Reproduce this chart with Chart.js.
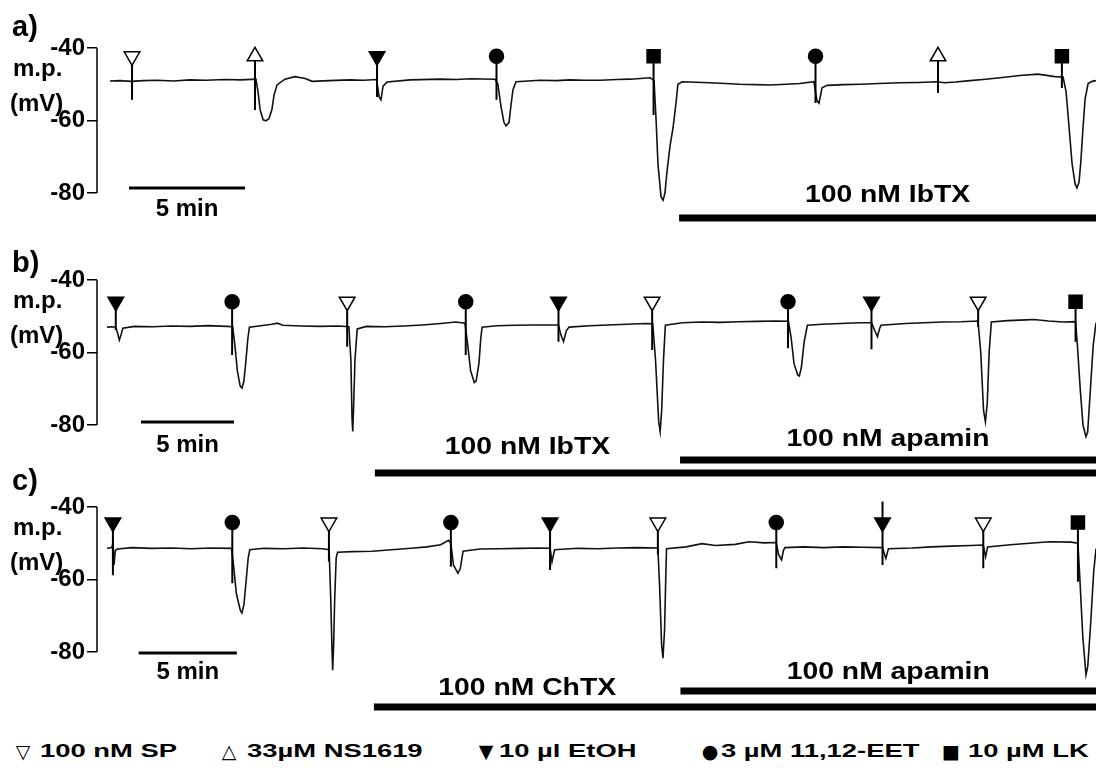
<!DOCTYPE html>
<html lang="en">
<head>
    <meta charset="utf-8">
    <title>Membrane potential traces</title>
    <script src="https://cdn.jsdelivr.net/npm/chart.js"></script>
    <style>
        body {
            margin: 0;
            background: #fff;
            width: 1099px;
            height: 771px;
            position: relative;
            overflow: hidden;
            font-family: "Liberation Sans", Arial, sans-serif;
        }
        canvas {
            position: absolute;
            left: 0;
        }
        #legend span {
            position: absolute;
            top: 736px;
            line-height: 30px;
            font-weight: bold;
            white-space: nowrap;
            color: #000;
        }
        #legend .sym {
            font-family: "DejaVu Sans", sans-serif;
            font-size: 19px;
            transform: translateX(-50%);
        }
        #legend .txt {
            font-size: 18.5px;
            transform: scaleX(1.48);
            transform-origin: left center;
        }
    </style>
</head>
<body>
<canvas id="panelA" width="1099" height="260" style="top:0px"></canvas>
<canvas id="panelB" width="1099" height="260" style="top:232px"></canvas>
<canvas id="panelC" width="1099" height="260" style="top:459px"></canvas>
<div id="legend"></div>

<script>
    // ---- data (minutes, mV) ----
    const tickValues = [-40, -60, -80];

    const drugKeys = ['SP', 'NS1619', 'EtOH', 'EET', 'LK'];
    const drugNames = ['100 nM SP', '33\u00b5M NS1619', '10 \u00b5l EtOH', '3 \u00b5M 11,12-EET', '10 \u00b5M LK'];
    const drugSymbols = ['\u25bd', '\u25b3', '\u25bc', '\u25cf', '\u25a0'];

    // panel a
    const timeA = [0.56, 1.0, 1.47, 2.0, 2.6, 3.3, 4.0, 4.7, 5.5, 6.2, 6.85, 6.94, 7.03, 7.16, 7.28, 7.41, 7.54, 7.63, 7.76,
        8.1, 8.53, 8.97, 9.27, 10.0, 10.9, 11.5, 12.05, 12.16, 12.24, 12.33, 12.5, 13.5, 14.8, 15.5, 16.1, 17.16, 17.28,
        17.41, 17.54, 17.63, 17.76, 17.84, 17.93, 18.06, 19.1, 19.8, 20.4, 21.0, 21.7, 22.4, 23.0, 23.84, 24.01, 24.1,
        24.18, 24.31, 24.4, 24.48, 24.57, 24.7, 24.83, 24.96, 25.04, 25.22, 26.4, 27.1, 27.7, 28.4, 29.0, 29.7, 30.3,
        30.9, 31.03, 31.12, 31.25, 31.47, 32.2, 32.9, 33.7, 34.6, 35.4, 36.16, 36.55, 37.0, 37.63, 38.3, 38.92, 39.78,
        40.56, 41.29, 41.64, 41.77, 41.9, 42.03, 42.16, 42.24, 42.33, 42.41, 42.5, 42.59, 42.72, 42.89, 43.06];
    const mpA = [-49.1, -49.0, -49.2, -49.0, -48.9, -49.1, -48.8, -48.9, -48.7, -48.8, -48.6, -52, -57, -59.8, -60.1, -59.5,
        -57, -53, -50.2, -48.6, -47.9, -48.4, -49.2, -49.0, -48.8, -48.9, -48.7, -53.5, -54.3, -50.5, -49.4, -48.8, -48.6,
        -48.7, -48.5, -48.6, -50, -56, -60.5, -61.5, -60.5, -56, -51.5, -49.3, -48.9, -49.0, -48.8, -48.9, -48.9, -48.7,
        -48.6, -48.2, -49, -60, -72, -81, -82, -80, -74, -67, -62, -55, -50, -49.3, -49.6, -49.8, -50.0, -50.1, -50.2,
        -50.0, -49.8, -49.3, -54.5, -55.2, -51, -50.3, -50.1, -50.0, -49.8, -49.6, -49.5, -49.3, -49.6, -49.4, -49.0,
        -48.6, -48.2, -47.6, -47.2, -47.9, -48.0, -52, -62, -72, -77.5, -78.6, -77, -71, -62, -54, -49.8, -49.2, -49.0];
    const eventTimeA = [1.51, 6.81, 12.07, 17.22, 23.99, 30.97, 36.25, 41.59];
    const eventDrugA = ['SP', 'NS1619', 'EtOH', 'EET', 'LK', 'EET', 'NS1619', 'LK'];
    const stemEndA = [-54.3, -57.1, -53.5, -54.3, -58.5, -55.2, -52.4, -51.0];
    const stemTopA = [null, null, null, null, null, null, null, null];
    const toxinNamesA = ['100 nM IbTX'];
    const toxinStartA = [25.09];

    // panel b
    const timeB = [0.54, 0.8, 1.01, 1.1, 1.2, 1.3, 1.39, 2.0, 3.0, 4.0, 5.0, 6.0, 7.0, 7.3, 7.42, 7.55, 7.7, 7.8, 7.9, 8.0,
        8.12, 8.2, 8.8, 9.4, 9.7, 10.0, 11.0, 12.0, 13.0, 13.55, 13.66, 13.72, 13.76, 13.8, 13.88, 14.0, 14.5, 15.5, 16.5,
        17.5, 18.5, 19.3, 19.8, 19.95, 20.1, 20.3, 20.4, 20.55, 20.65, 20.72, 21.5, 22.5, 23.5, 24.83, 24.95, 25.1, 25.25,
        25.4, 26.5, 27.5, 28.5, 29.5, 29.9, 30.05, 30.22, 30.3, 30.38, 30.48, 30.58, 31.5, 32.5, 33.5, 34.5, 35.5, 36.5,
        37.2, 37.35, 37.5, 37.7, 37.79, 37.9, 38.05, 38.22, 39.0, 40.0, 41.0, 41.67, 41.85, 41.99, 42.1, 42.18, 43.5,
        44.5, 45.5, 46.5, 47.4, 47.55, 47.7, 47.8, 47.9, 48.0, 48.12, 49.0, 50.0, 50.4, 51.2, 52.0, 52.65, 52.75, 52.9,
        53.05, 53.21, 53.3, 53.45, 53.6, 53.75];
    const mpB = [-53.0, -52.9, -53.0, -54.5, -56.6, -55, -53.3, -52.8, -52.9, -52.7, -52.8, -52.6, -52.8, -52.9, -58, -65,
        -69.2, -69.8, -68, -63, -56, -53, -52.6, -52.2, -51.9, -52.5, -52.7, -52.8, -52.7, -52.9, -62, -78, -81.8, -76,
        -62, -53.5, -52.8, -52.9, -52.7, -52.4, -52.0, -51.6, -51.9, -58, -65, -68.3, -67.8, -63, -56, -53, -52.6, -52.5,
        -52.4, -52.4, -55, -57, -54, -53, -52.6, -52.4, -52.2, -52.0, -52.1, -62, -79, -81.8, -76, -62, -52.5, -51.8,
        -51.6, -51.7, -51.5, -51.4, -51.3, -51.4, -56, -63, -66.2, -66.5, -64, -57, -52.5, -52.2, -52.0, -51.8, -51.8,
        -54, -55.6, -53.5, -52.5, -52.0, -51.8, -51.6, -51.5, -51.3, -60, -76, -79.1, -74, -60, -51.6, -51.2, -51.0,
        -50.9, -51.3, -51.6, -51.5, -58, -70, -80, -83.2, -82, -70, -58, -51.8];
    const eventTimeB = [1.01, 7.27, 13.46, 19.84, 24.83, 29.87, 37.18, 41.67, 47.41, 52.65];
    const eventDrugB = ['EtOH', 'EET', 'SP', 'EET', 'EtOH', 'SP', 'EET', 'EtOH', 'SP', 'LK'];
    const stemEndB = [-53.8, -60.7, -58.4, -60.7, -57.0, -59.3, -58.8, -59.1, -52.9, -57.0];
    const stemTopB = [null, null, null, null, null, null, null, null, null, null];
    const toxinNamesB = ['100 nM IbTX', '100 nM apamin'];
    const toxinStartB = [14.95, 31.37];

    // panel c
    const timeC = [0.51, 0.75, 0.81, 0.87, 0.93, 1.04, 1.8, 2.8, 3.8, 4.8, 5.8, 6.85, 6.95, 7.1, 7.3, 7.38, 7.48, 7.6,
        7.7, 7.78, 8.5, 9.5, 10.5, 11.5, 11.82, 11.9, 11.97, 12.0, 12.05, 12.1, 12.18, 12.25, 13.0, 14.0, 15.0, 16.0,
        16.8, 17.5, 17.9, 18.02, 18.15, 18.38, 18.5, 18.64, 19.5, 20.5, 21.5, 22.5, 23.07, 23.17, 23.3, 24.5, 25.5, 26.5,
        27.5, 28.56, 28.65, 28.75, 28.82, 28.9, 28.96, 29.0, 30.0, 30.8, 31.5, 32.5, 33.2, 34.0, 34.59, 34.7, 34.86,
        34.95, 35.03, 36.0, 37.0, 38.0, 39.0, 40.0, 40.1, 40.17, 40.3, 41.5, 42.5, 43.5, 44.5, 45.13, 45.2, 45.25, 45.35,
        46.5, 47.5, 48.5, 49.6, 49.95, 50.05, 50.2, 50.36, 50.45, 50.6, 50.75, 50.87];
    const mpC = [-51.4, -51.2, -50, -56, -52, -51.6, -51.2, -51.4, -51.3, -51.5, -51.3, -51.4, -56, -64, -68.5, -69.2,
        -67, -60, -54, -51.8, -51.4, -51.5, -51.3, -51.5, -51.8, -65, -80, -85, -78, -66, -54, -52.5, -52.3, -52.2,
        -51.8, -51.4, -51.0, -50.4, -49.2, -50, -56, -58.3, -57, -52.2, -51.6, -51.5, -51.4, -51.3, -51.4, -55.1, -51.8,
        -51.4, -51.5, -51.3, -51.2, -51.3, -62, -78, -81.7, -74, -60, -51.5, -51.0, -50.1, -50.6, -50.3, -49.6, -49.9,
        -49.8, -53, -54.6, -52, -51.2, -51.0, -51.2, -51.0, -51.1, -51.2, -53, -54.2, -51.5, -51.3, -51.0, -50.8, -50.6,
        -50.5, -52.5, -53.7, -51, -50.4, -50.0, -49.6, -49.7, -50, -60, -76, -86.3, -84, -72, -58, -51.5];
    const eventTimeC = [0.81, 6.89, 11.81, 18.02, 23.07, 28.56, 34.59, 40.0, 45.13, 49.95];
    const eventDrugC = ['EtOH', 'EET', 'SP', 'EET', 'EtOH', 'SP', 'EET', 'EtOH', 'SP', 'LK'];
    const stemEndC = [-58.8, -61, -55, -56.5, -57.4, -53, -56.9, -56.0, -56.9, -60.6];
    const stemTopC = [null, null, null, null, null, null, null, -38.5, null, null];
    const toxinNamesC = ['100 nM ChTX', '100 nM apamin'];
    const toxinStartC = [14.1, 29.71];

    // scale bar start (each bar is 5 min long)
    const scaleBarStart = [1.38, 2.37, 2.12];
    const scaleBarLength = 5;

    // ---- layout and styles ----
    const FONT = '"Liberation Sans", Arial, sans-serif';
    const yRange = {min: -98.48, max: -26.76};
    const panels = [
        {id: 'panelA', letter: 'a)', letterY: 28, tMax: 43.06, markerLevel: -42.3, barY: 188, barLabelY: 209,
            toxinY: [218], toxinLabelY: [195],
            time: timeA, mp: mpA, evT: eventTimeA, evD: eventDrugA, stemEnd: stemEndA, stemTop: stemTopA,
            toxins: toxinNamesA, toxinStart: toxinStartA},
        {id: 'panelB', letter: 'b)', letterY: 32, tMax: 53.75, markerLevel: -46, barY: 190, barLabelY: 213,
            toxinY: [241, 228], toxinLabelY: [215, 207],
            time: timeB, mp: mpB, evT: eventTimeB, evD: eventDrugB, stemEnd: stemEndB, stemTop: stemTopB,
            toxins: toxinNamesB, toxinStart: toxinStartB},
        {id: 'panelC', letter: 'c)', letterY: 23, tMax: 50.87, markerLevel: -44.3, barY: 194, barLabelY: 213,
            toxinY: [248, 232], toxinLabelY: [229, 213],
            time: timeC, mp: mpC, evT: eventTimeC, evD: eventDrugC, stemEnd: stemEndC, stemTop: stemTopC,
            toxins: toxinNamesC, toxinStart: toxinStartC}
    ];

    const markerStyle = {
        SP: {pointStyle: 'triangle', rotation: 180, radius: 9, fill: '#fff'},
        NS1619: {pointStyle: 'triangle', rotation: 0, radius: 9, fill: '#fff'},
        EtOH: {pointStyle: 'triangle', rotation: 180, radius: 9, fill: '#000'},
        EET: {pointStyle: 'circle', rotation: 0, radius: 7, fill: '#000'},
        LK: {pointStyle: 'rect', rotation: 0, radius: 9.2, fill: '#000'}
    };

    // axis line, labels, scale bar and toxin bars
    const figureExtras = {
        id: 'figureExtras',
        afterDraw(chart, args, opts) {
            const p = opts.panel;
            const {ctx, chartArea} = chart;
            const x = chart.scales.x, y = chart.scales.y;
            const y40 = y.getPixelForValue(-40);
            ctx.save();
            ctx.strokeStyle = '#000';
            ctx.fillStyle = '#000';
            ctx.lineWidth = 1.5;
            ctx.beginPath();
            ctx.moveTo(chartArea.left, y40);
            ctx.lineTo(chartArea.left, y.getPixelForValue(-80));
            ctx.stroke();

            ctx.textBaseline = 'middle';
            ctx.textAlign = 'left';
            ctx.font = 'bold 29px ' + FONT;
            ctx.fillText(p.letter, 12, p.letterY);
            ctx.font = 'bold 24px ' + FONT;
            ctx.fillText('m.p.', 13, y40 + 21);
            ctx.fillText('(mV)', 10, y40 + 56);

            // 5 min scale bar
            const sb = scaleBarStart[p.index];
            const xs = x.getPixelForValue(sb), xe = x.getPixelForValue(sb + scaleBarLength);
            ctx.fillRect(xs, p.barY - 1.5, xe - xs, 3);
            ctx.textAlign = 'center';
            ctx.font = 'bold 24px ' + FONT;
            ctx.fillText('5 min', (xs + xe) / 2, p.barLabelY);

            // toxin bars, labels are printed a little wide
            p.toxins.forEach((name, i) => {
                const x0 = x.getPixelForValue(p.toxinStart[i]);
                const x1 = i + 1 < p.toxins.length ? x.getPixelForValue(p.toxinStart[i + 1]) : chartArea.right;
                ctx.fillRect(x0, p.toxinY[i] - 3.5, chartArea.right - x0, 7);
                ctx.save();
                ctx.translate((x0 + x1) / 2, p.toxinLabelY[i]);
                ctx.scale(1.18, 1);
                ctx.fillText(name, 0, 0);
                ctx.restore();
            });
            ctx.restore();
        }
    };

    function makePanel(p, index) {
        p.index = index;
        const styles = p.evD.map(d => markerStyle[d]);
        const stems = [];
        p.evT.forEach((t, i) => {
            const top = p.stemTop[i] !== null ? p.stemTop[i] : p.markerLevel;
            stems.push({x: t, y: top}, {x: t, y: p.stemEnd[i]}, {x: t, y: null});
        });

        new Chart(document.getElementById(p.id), {
            type: 'line',
            data: {
                datasets: [
                    {
                        label: 'markers',
                        data: p.evT.map(t => ({x: t, y: p.markerLevel})),
                        showLine: false,
                        pointStyle: styles.map(s => s.pointStyle),
                        rotation: styles.map(s => s.rotation),
                        pointRadius: styles.map(s => s.radius),
                        pointBackgroundColor: styles.map(s => s.fill),
                        pointBorderColor: '#000',
                        pointBorderWidth: 1.5,
                        order: 0
                    },
                    {
                        label: 'stems',
                        data: stems,
                        borderColor: '#000',
                        borderWidth: 2,
                        pointRadius: 0,
                        spanGaps: false,
                        order: 1
                    },
                    {
                        label: 'membrane potential',
                        data: p.time.map((t, i) => ({x: t, y: p.mp[i]})),
                        borderColor: '#111',
                        borderWidth: 1.6,
                        pointRadius: 0,
                        tension: 0,
                        order: 2
                    }
                ]
            },
            options: {
                responsive: false,
                animation: false,
                events: [],
                layout: {autoPadding: false, padding: {left: 0, right: 3, top: 0, bottom: 0}},
                plugins: {
                    legend: {display: false},
                    tooltip: {enabled: false},
                    figureExtras: {panel: p}
                },
                scales: {
                    x: {type: 'linear', display: false, min: 0, max: p.tMax},
                    y: {
                        type: 'linear',
                        min: yRange.min,
                        max: yRange.max,
                        afterBuildTicks: s => { s.ticks = tickValues.map(v => ({value: v})); },
                        afterFit: s => { s.width = 97; s.paddingTop = 0; s.paddingBottom = 0; },
                        border: {display: false},
                        grid: {drawOnChartArea: false, tickLength: 10, color: '#000', lineWidth: 1.5},
                        ticks: {
                            color: '#000',
                            padding: 2,
                            font: {family: FONT, weight: 'bold', size: 24},
                            callback: v => String(v)
                        }
                    }
                }
            },
            plugins: [figureExtras]
        });
    }

    panels.forEach(makePanel);

    // legend
    const legendSymX = [23, 229, 486, 710, 951];
    const legendTextX = [40, 247, 499, 721, 968];
    const legend = document.getElementById('legend');
    drugKeys.forEach((k, i) => {
        const sym = document.createElement('span');
        sym.className = 'sym';
        sym.style.left = legendSymX[i] + 'px';
        sym.textContent = drugSymbols[i];
        const txt = document.createElement('span');
        txt.className = 'txt';
        txt.style.left = legendTextX[i] + 'px';
        txt.textContent = drugNames[i];
        legend.appendChild(sym);
        legend.appendChild(txt);
    });
</script>
</body>
</html>
